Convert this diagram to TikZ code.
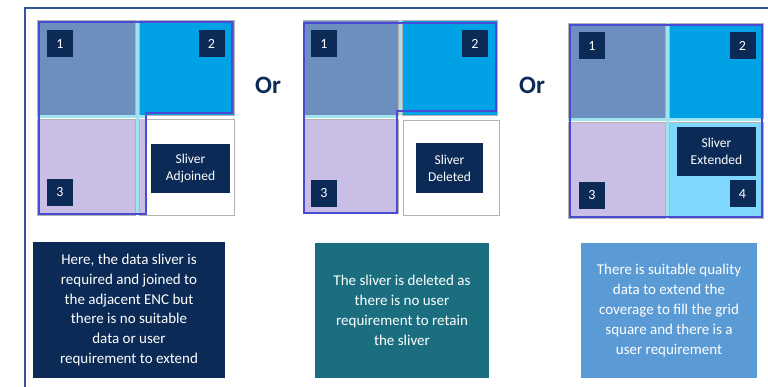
\documentclass[tikz,border=0pt]{standalone}
\usepackage{fontspec}
\setmainfont{Carlito}
\definecolor{navy}{HTML}{0B2A55}
\definecolor{framecol}{HTML}{34559A}
\definecolor{steel}{HTML}{6D8FBF}
\definecolor{azure}{HTML}{00A2E6}
\definecolor{lilac}{HTML}{C9BFE6}
\definecolor{icecyan}{HTML}{7FD6FF}
\definecolor{gapcyan}{HTML}{9FE3EE}
\definecolor{encblue}{HTML}{4A4AD2}
\definecolor{tealbox}{HTML}{1B6E80}
\definecolor{skybox}{HTML}{5B9BD5}

\tikzset{
  cell/.style={draw=gray!60, line width=0.8pt},
  numlabel/.style={fill=navy, text=white, minimum width=26pt, minimum height=27pt,
    inner sep=0pt, font=\fontsize{14}{14}\selectfont},
  sliverbox/.style={fill=navy, text=white, align=center, inner sep=0pt,
    font=\fontsize{13.5}{17}\selectfont},
  notebox/.style={text=white, align=center, inner sep=0pt,
    font=\fontsize{15}{19.8}\selectfont},
  ortext/.style={text=navy, font=\fontsize{25}{25}\selectfont\bfseries},
  encline/.style={draw=encblue, line width=2.5pt, line join=miter},
  gapline/.style={draw=gapcyan, line width=3pt}
}

\begin{document}
\begin{tikzpicture}[x=1pt,y=-1pt]
  \useasboundingbox (0,0) rectangle (768,387);
  % frame
  \draw[framecol, line width=1.8pt] (768,8) -- (25,8) -- (25,387);

  % Panel 1: sliver adjoined
  \filldraw[cell, fill=steel] (37,20) rectangle (135,115);
  \filldraw[cell, fill=azure] (139,20) rectangle (234,115);
  \filldraw[cell, fill=lilac] (37,119) rectangle (135,215);
  \filldraw[cell, fill=white] (139,119) rectangle (234,215);
  \fill[lilac] (139.5,119.5) rectangle (146,214.5);
  \draw[gapline] (137,20) -- (137,215);
  \draw[gapline] (37,117) -- (146,117);
  \draw[encline] (39,22) -- (232,22) -- (232,113) -- (146,113) -- (146,214) -- (39,214) -- cycle;
  \node[numlabel] (a1) at (60,43.5) {1};
  \node[numlabel] (a2) at (211.5,43.5) {2};
  \node[numlabel] (a3) at (60,192.5) {3};
  \node[sliverbox, minimum width=79pt, minimum height=49pt] (adjoined) at (190.5,168.5) {Sliver\\Adjoined};

  \node[ortext] (or1) at (268,85) {Or};

  % Panel 2: sliver deleted
  \filldraw[cell, fill=steel] (303,20) rectangle (398,115);
  \filldraw[cell, fill=azure] (402,20) rectangle (497,115);
  \filldraw[cell, fill=lilac] (303,119) rectangle (398,213);
  \filldraw[cell, fill=white] (403,120) rectangle (499,215);
  \draw[gapline] (400,20) -- (400,115);
  \draw[gapline] (303,117) -- (398,117);
  \draw[encline] (304,23) -- (496,23) -- (496,111) -- (397,111) -- (397,213) -- (304,213) -- cycle;
  \node[numlabel] (b1) at (324,43.5) {1};
  \node[numlabel] (b2) at (475,43.5) {2};
  \node[numlabel] (b3) at (324,193.5) {3};
  \node[sliverbox, minimum width=67pt, minimum height=50pt] (deleted) at (449.5,168) {Sliver\\Deleted};

  \node[ortext] (or2) at (532,85) {Or};

  % Panel 3: sliver extended
  \filldraw[cell, fill=steel] (568,23) rectangle (665,118);
  \filldraw[cell, fill=azure] (669,23) rectangle (763,118);
  \filldraw[cell, fill=lilac] (568,122) rectangle (665,218);
  \filldraw[cell, fill=icecyan] (669,122) rectangle (763,218);
  \draw[gapline] (667,23) -- (667,218);
  \draw[gapline] (568,120) -- (763,120);
  \draw[encline] (570,25) rectangle (762,217);
  \node[numlabel] (c1) at (592,46) {1};
  \node[numlabel] (c2) at (742.5,46) {2};
  \node[numlabel] (c3) at (592,195.5) {3};
  \node[numlabel] (c4) at (742.5,194) {4};
  \node[sliverbox, minimum width=79pt, minimum height=49pt] (extended) at (716.5,151.5) {Sliver\\Extended};

  % explanations
  \node[notebox, fill=navy, minimum width=192pt, minimum height=136pt] (note1) at (129,310)
    {Here, the data sliver is\\required and joined to\\the adjacent ENC but\\there is no suitable\\data or user\\requirement to extend};
  \node[notebox, fill=tealbox, minimum width=174pt, minimum height=135pt] (note2) at (402,310.5)
    {The sliver is deleted as\\there is no user\\requirement to retain\\the sliver};
  \node[notebox, fill=skybox, minimum width=176pt, minimum height=135pt] (note3) at (669,310.5)
    {There is suitable quality\\data to extend the\\coverage to fill the grid\\square and there is a\\user requirement};
\end{tikzpicture}
\end{document}
